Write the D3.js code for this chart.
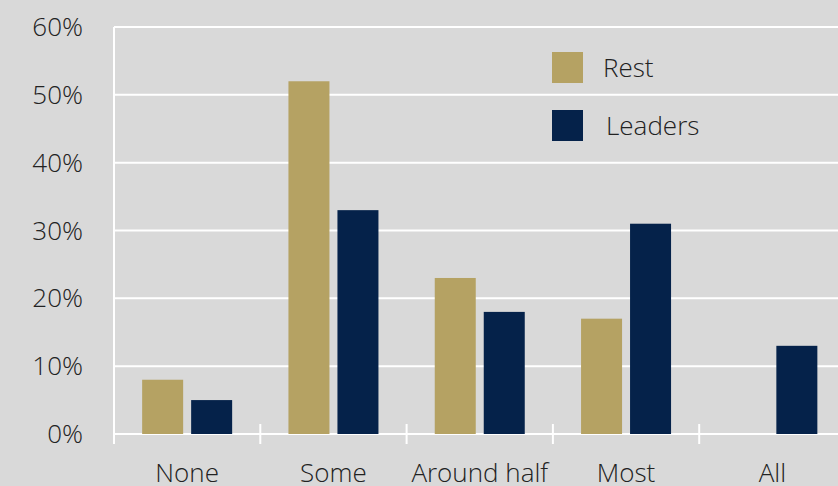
<!DOCTYPE html>
<html><head><meta charset="utf-8">
<script src="https://cdn.jsdelivr.net/npm/d3@7"></script>
<style>
html,body{margin:0;padding:0;background:#d9d9d9;}
svg{display:block;font-family:"Open Sans","Noto Sans",sans-serif;font-weight:300;}
</style></head><body>
<svg id="c" width="838" height="486"></svg>
<script>
const categories = ["None","Some","Around half","Most","All"];
const seriesNames = ["Rest","Leaders"];
const rest = [8,52,23,17,null];
const leaders = [5,33,18,31,13];
const yTicks = [0,10,20,30,40,50,60];
const colors = ["#b5a263","#05224a"];

const svg = d3.select("#c");
const W=838,H=486;
svg.append("rect").attr("width",W).attr("height",H).attr("fill","#d9d9d9");
const x0=114, bandW=146.3;
const x = d3.scaleBand().domain(categories).range([x0, x0+bandW*categories.length]).paddingInner(0).paddingOuter(0);
const xs = d3.scaleBand().domain(seriesNames).range([0,x.bandwidth()]).paddingInner(0.195).paddingOuter(0.39*0.72+0.0);
const y = d3.scaleLinear().domain([0,60]).range([434,27]);

// gridlines
svg.append("g").selectAll("line").data(yTicks).join("line")
  .attr("x1",x0).attr("x2",W).attr("y1",d=>y(d)).attr("y2",d=>y(d))
  .attr("stroke","#ffffff").attr("stroke-width",2);
// y axis line
svg.append("line").attr("x1",x0).attr("x2",x0).attr("y1",y(60)).attr("y2",444)
  .attr("stroke","#fff").attr("stroke-width",2);
// category tick separators
svg.append("g").selectAll("line").data(categories.slice(1)).join("line")
  .attr("x1",d=>x(d)).attr("x2",d=>x(d)).attr("y1",424).attr("y2",444)
  .attr("stroke","#fff").attr("stroke-width",2);

// y labels
svg.append("g").selectAll("text").data(yTicks).join("text")
  .attr("x",83).attr("y",d=>y(d)+9).attr("text-anchor","end")
  .attr("font-size",26).attr("fill","#222").text(d=>d+"%");

// bars
const data = categories.map((c,i)=>({c, vals:[rest[i],leaders[i]]}));
const g = svg.append("g").selectAll("g").data(data).join("g")
  .attr("transform",d=>`translate(${x(d.c)},0)`);
const bw=41, gap=8, off=(bandW-2*bw-gap)/2;
g.selectAll("rect").data(d=>d.vals.map((v,j)=>({v,j}))).join("rect")
  .filter(d=>d.v!=null)
  .attr("x",d=>off+d.j*(bw+gap)).attr("width",bw)
  .attr("y",d=>y(d.v)).attr("height",d=>y(0)-y(d.v))
  .attr("fill",d=>colors[d.j]);

// category labels
svg.append("g").selectAll("text").data(categories).join("text")
  .attr("x",d=>x(d)+bandW/2).attr("y",482).attr("text-anchor","middle")
  .attr("font-size",26).attr("fill","#222").text(d=>d);

// legend
const leg = svg.append("g");
const legY=[52,110], legTX=[603,606];
seriesNames.forEach((s,i)=>{
  leg.append("rect").attr("x",552).attr("y",legY[i]).attr("width",31).attr("height",31).attr("fill",colors[i]);
  leg.append("text").attr("x",legTX[i]).attr("y",legY[i]+25).attr("font-size",26).attr("fill","#222").text(s);
});
</script></body></html>
